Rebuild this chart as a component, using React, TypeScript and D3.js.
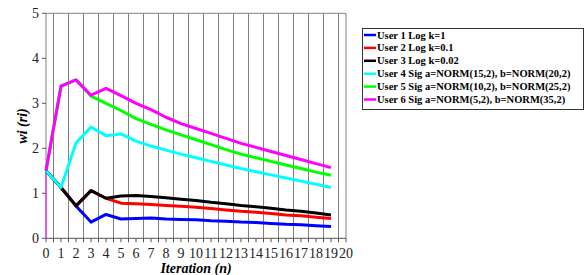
import { useMemo } from "react";
import * as d3 from "d3";

const iterations = d3.range(0, 20);
const xTicks = d3.range(0, 21);
const yTicks = [0, 1, 2, 3, 4, 5];

const user1 = [1.5, 1.13, 0.72, 0.36, 0.53, 0.43, 0.44, 0.45, 0.43, 0.42, 0.41, 0.39, 0.38, 0.36, 0.35, 0.33, 0.31, 0.3, 0.28, 0.26];
const user2 = [1.5, 1.13, 0.72, 1.06, 0.89, 0.78, 0.77, 0.75, 0.73, 0.71, 0.69, 0.66, 0.63, 0.6, 0.58, 0.55, 0.52, 0.5, 0.47, 0.44];
const user3 = [1.5, 1.13, 0.72, 1.06, 0.89, 0.94, 0.95, 0.93, 0.9, 0.87, 0.84, 0.8, 0.77, 0.73, 0.7, 0.67, 0.63, 0.6, 0.56, 0.52];
const user4 = [1.5, 1.13, 2.12, 2.47, 2.28, 2.32, 2.16, 2.05, 1.96, 1.87, 1.79, 1.71, 1.63, 1.55, 1.48, 1.41, 1.34, 1.27, 1.2, 1.13];
const user5 = [1.5, 3.38, 3.52, 3.16, 3.0, 2.84, 2.66, 2.53, 2.41, 2.3, 2.19, 2.08, 1.97, 1.87, 1.79, 1.71, 1.63, 1.55, 1.47, 1.4];
const user6 = [1.5, 3.38, 3.52, 3.18, 3.33, 3.17, 3.0, 2.86, 2.69, 2.55, 2.44, 2.33, 2.22, 2.11, 2.02, 1.93, 1.84, 1.75, 1.66, 1.57];

const seriesNames = [
  "User 1 Log k=1",
  "User 2 Log k=0.1",
  "User 3 Log k=0.02",
  "User 4 Sig a=NORM(15,2), b=NORM(20,2)",
  "User 5 Sig a=NORM(10,2), b=NORM(25,2)",
  "User 6 Sig a=NORM(5,2), b=NORM(35,2)",
];
const seriesValues = [user1, user2, user3, user4, user5, user6];
const seriesColors = ["#0000ff", "#ff0000", "#000000", "#00ffff", "#00ff00", "#ff00ff"];

const width = 586;
const height = 275;
const PLOT = { left: 46, right: 346, top: 13.3, bottom: 238.3 };
const SERIF = "Liberation Serif, DejaVu Serif, serif";

const App = () => {
  const xScale = useMemo(
    () => d3.scaleLinear().domain([0, 20]).range([PLOT.left, PLOT.right]),
    []
  );
  const yScale = useMemo(
    () => d3.scaleLinear().domain([0, 5]).range([PLOT.bottom, PLOT.top]),
    []
  );

  const line = d3
    .line<number>()
    .x((_, i) => xScale(iterations[i]))
    .y((d) => yScale(d));

  // grid lines sit halfway between the integer iterations
  const gridPositions = d3.range(0.5, 20, 1);
  const minorTicks = d3.range(0, 20.01, 0.5);

  return (
    <svg
      width={width}
      height={height}
      fontFamily={SERIF}
      style={{ position: "absolute", left: 0, top: 0, background: "#fff" }}
    >
      {/* grid */}
      {gridPositions.map((v, i) => (
        <line
          key={i}
          x1={xScale(v)}
          x2={xScale(v)}
          y1={yScale(5)}
          y2={yScale(0)}
          stroke="#808080"
          strokeWidth={1}
        />
      ))}
      <line x1={xScale(0)} x2={xScale(20)} y1={yScale(5)} y2={yScale(5)} stroke="#808080" />
      <line x1={xScale(20)} x2={xScale(20)} y1={yScale(5)} y2={yScale(0)} stroke="#808080" />

      {/* y axis */}
      <line x1={xScale(0)} x2={xScale(0)} y1={yScale(5)} y2={yScale(0)} stroke="#808080" />
      {yTicks.map((t) => (
        <g key={t}>
          <line
            x1={xScale(0) - 4}
            x2={xScale(0)}
            y1={yScale(t)}
            y2={yScale(t)}
            stroke="#555"
          />
          <text
            x={xScale(0) - 7}
            y={yScale(t)}
            textAnchor="end"
            dominantBaseline="central"
            fontSize={14}
            fill="#222"
          >
            {t}
          </text>
        </g>
      ))}

      {/* x axis */}
      <line x1={xScale(0)} x2={xScale(20)} y1={yScale(0)} y2={yScale(0)} stroke="#555" />
      {minorTicks.map((t, i) => (
        <line
          key={i}
          x1={xScale(t)}
          x2={xScale(t)}
          y1={yScale(0)}
          y2={yScale(0) + 4}
          stroke="#555"
        />
      ))}
      {xTicks.map((t) => (
        <text
          key={t}
          x={xScale(t)}
          y={yScale(0) + 15}
          textAnchor="middle"
          dominantBaseline="central"
          fontSize={14}
          fill="#222"
        >
          {t}
        </text>
      ))}

      {/* thin pink line along the y axis */}
      <line
        x1={xScale(0)}
        x2={xScale(0)}
        y1={yScale(0)}
        y2={yScale(user6[0])}
        stroke="#ff00ff"
        strokeWidth={1}
      />

      {/* series */}
      {seriesValues.map((vals, i) => (
        <path
          key={i}
          d={line(vals) || ""}
          fill="none"
          stroke={seriesColors[i]}
          strokeWidth={3}
          strokeLinejoin="round"
        />
      ))}

      {/* axis titles */}
      <text
        x={196}
        y={268}
        textAnchor="middle"
        dominantBaseline="central"
        fontSize={14}
        fontWeight="bold"
        fontStyle="italic"
      >
        Iteration (n)
      </text>
      <text
        transform="translate(22,126) rotate(-90)"
        textAnchor="middle"
        dominantBaseline="central"
        fontSize={14}
        fontWeight="bold"
        fontStyle="italic"
      >
        wi (ri)
      </text>

      {/* legend */}
      <rect x={362.5} y={28.5} width={221} height={81} fill="#fff" stroke="#333" />
      {seriesNames.map((name, i) => {
        const y = 35 + i * 12.9;
        return (
          <g key={name}>
            <line x1={364} x2={376} y1={y} y2={y} stroke={seriesColors[i]} strokeWidth={2.5} />
            <text
              x={377}
              y={y}
              dominantBaseline="central"
              fontSize={10.5}
              fontWeight="bold"
              fill="#000"
            >
              {name}
            </text>
          </g>
        );
      })}
    </svg>
  );
};

export default App;
